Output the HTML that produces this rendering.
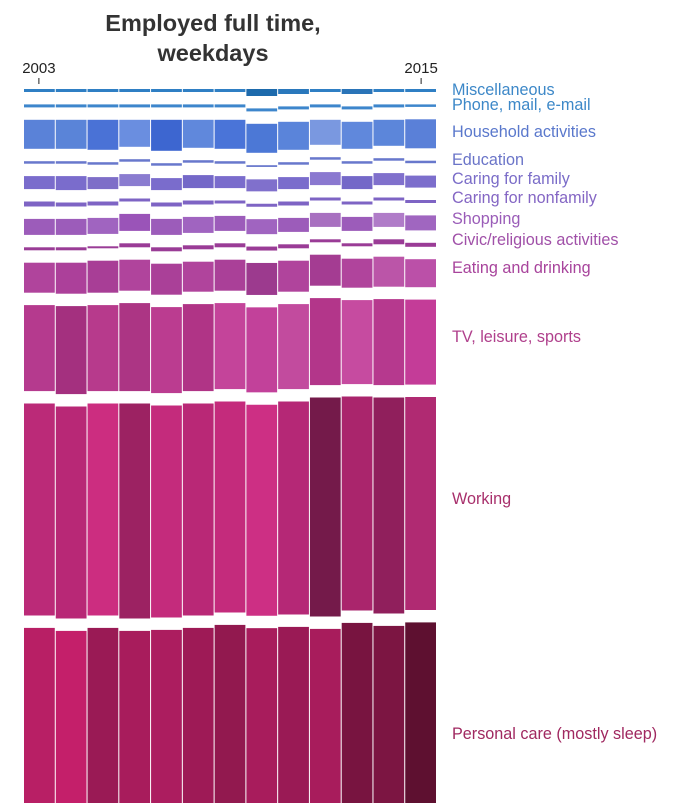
<!DOCTYPE html>
<html><head><meta charset="utf-8">
<style>
body{margin:0;background:#fff;width:676px;height:803px;overflow:hidden;font-family:"Liberation Sans",sans-serif;}
#wrap{position:relative;width:676px;height:803px;overflow:hidden;}
svg{position:absolute;left:0;top:0;overflow:hidden;}
</style></head>
<body>
<div id="wrap">
<svg id="chart" width="676" height="803">
<text x="213" y="31" text-anchor="middle" font-size="23.5" font-weight="bold" fill="#333">Employed full time,</text>
<text x="213" y="61" text-anchor="middle" font-size="23.5" font-weight="bold" fill="#333">weekdays</text>
<g id="bars"></g>
<g id="labels"></g>
<g id="axis"></g>
</svg>
</div>
<script>
const years = [2003,2004,2005,2006,2007,2008,2009,2010,2011,2012,2013,2014,2015];
const tickYears = [2003,2015];
const categories = ["Miscellaneous","Phone, mail, e-mail","Household activities","Education","Caring for family","Caring for nonfamily","Shopping","Civic/religious activities","Eating and drinking","TV, leisure, sports","Working","Personal care (mostly sleep)"];
// hours per weekday, by category, per year
const miscHours = [0.12,0.12,0.12,0.12,0.12,0.12,0.12,0.28,0.2,0.12,0.2,0.12,0.12];
const phoneHours = [0.12,0.12,0.12,0.12,0.12,0.12,0.12,0.12,0.12,0.12,0.12,0.12,0.1];
const householdHours = [1.16,1.16,1.2,1.08,1.24,1.12,1.16,1.16,1.12,1.0,1.08,1.04,1.16];
const educationHours = [0.1,0.1,0.1,0.1,0.1,0.1,0.1,0.07,0.1,0.1,0.1,0.1,0.1];
const caringFamilyHours = [0.52,0.56,0.48,0.48,0.48,0.52,0.48,0.48,0.48,0.52,0.52,0.48,0.48];
const caringNonfamilyHours = [0.2,0.16,0.16,0.12,0.16,0.16,0.12,0.12,0.16,0.12,0.12,0.12,0.12];
const shoppingHours = [0.64,0.64,0.64,0.68,0.64,0.64,0.6,0.6,0.56,0.56,0.56,0.56,0.6];
const civicHours = [0.12,0.12,0.08,0.16,0.16,0.16,0.16,0.16,0.16,0.12,0.12,0.2,0.16];
const eatingHours = [1.2,1.24,1.28,1.24,1.24,1.2,1.24,1.28,1.24,1.24,1.16,1.2,1.12];
const tvHours = [3.44,3.52,3.44,3.52,3.44,3.48,3.44,3.4,3.4,3.48,3.36,3.44,3.4];
const workingHours = [8.48,8.48,8.48,8.6,8.48,8.48,8.44,8.44,8.52,8.76,8.56,8.64,8.52];
const personalCareHours = [8.9,8.85,8.9,8.8,8.85,8.9,9.0,8.9,8.95,8.8,8.9,8.9,9.0];
const seriesHours = [miscHours,phoneHours,householdHours,educationHours,caringFamilyHours,caringNonfamilyHours,shoppingHours,civicHours,eatingHours,tvHours,workingHours,personalCareHours];

const cellColors = [
 ["#2f7fc4","#2f7fc4","#2f7fc4","#2f7fc4","#2f7fc4","#2f7fc4","#2f7fc4","#1d6aac","#2a78bc","#2f7fc4","#2a74b8","#2f7fc4","#2f7fc4"],
 Array(13).fill("#3d86cc"),
 ["#5a82d8","#5a84d8","#4a72d6","#6a8ee0","#3d66d0","#6088dc","#4a74d8","#4c78d6","#5a84da","#7a98e0","#6088dc","#5c86da","#5a80d8"],
 Array(13).fill("#6878cc"),
 ["#7a6ccc","#7a6ccc","#7e6ec8","#8a7cd0","#7a6ccc","#7468c8","#7a6ccc","#8070cc","#7a6ccc","#8a78d0","#7468c8","#8070cc","#7c6ecc"],
 Array(13).fill("#7e64c4"),
 ["#9c5cba","#9c5cba","#a064c0","#9a54b8","#9c5cba","#a064c0","#9c5cba","#a064c0","#9c5cba","#a870c0","#9c5cba","#b07cc8","#a066c0"],
 Array(13).fill("#9a3c96"),
 ["#b0449c","#ac409a","#a83e96","#b0449c","#aa4098","#b0449c","#aa4098","#9c3a8e","#b0449c","#a43c92","#b0449c","#bb55a8","#bb50a8"],
 ["#b53a8e","#a4307f","#b73a8c","#ac3584","#bb3c90","#b03486","#c4449a","#c2419a","#c24b9e","#b3368a","#c64ba0","#b6398e","#c43c98"],
 ["#bb2a78","#b82876","#cc2d80","#9c2262","#c42b7c","#b92876","#c42b7c","#cd2f84","#b52876","#741a4a","#aa256c","#901f5c","#b02a72"],
 ["#b81f65","#c41f6a","#9a1a55","#a81c5c","#ac1d5f","#9e1a56","#92194f","#a81c5c","#9a1a55","#a81c5c","#781440","#7c1542","#5e1030"]
];
const labelColors = ["#3d88c8","#3d88c8","#5a78cc","#6a74c8","#7a6cc8","#8466c4","#9a5cb8","#a050a8","#a8449c","#b0408c","#a8306c","#a02860"];
const labelY = [90,105,132,160,179,198,219,240,268,337,499,734];

const NS="http://www.w3.org/2000/svg";
const X0=24, X1=437, TOP=89, PX_PER_HOUR=25, GAP=12.4, BOTTOM=803;
const colW=(X1-X0)/years.length;
function xScale(i){return X0+i*colW;}
function hScale(h){return h*PX_PER_HOUR;}

const barsG=document.getElementById('bars');
years.forEach((yr,i)=>{
  let y=TOP;
  seriesHours.forEach((ser,c)=>{
    const full=hScale(ser[i]);
    const h=Math.max(0,Math.min(full,BOTTOM-y));
    const r=document.createElementNS(NS,'rect');
    r.setAttribute('x',xScale(i));
    r.setAttribute('y',y);
    r.setAttribute('width',colW-1);
    r.setAttribute('height',h);
    r.setAttribute('fill',cellColors[c][i]);
    
    
    barsG.appendChild(r);
    y+=full+GAP;
  });
});

const labG=document.getElementById('labels');
categories.forEach((cat,c)=>{
  const t=document.createElementNS(NS,'text');
  t.setAttribute('x',452);
  t.setAttribute('y',labelY[c]+5);
  t.setAttribute('font-size','16.2');
  t.setAttribute('fill',labelColors[c]);
  t.textContent=cat;
  
  
  labG.appendChild(t);
});

const axG=document.getElementById('axis');
tickYears.forEach(yr=>{
  const i=years.indexOf(yr);
  const cx=xScale(i)+colW/2 + (i===0?-1:0);
  const t=document.createElementNS(NS,'text');
  t.setAttribute('x',cx);
  t.setAttribute('y',73);
  t.setAttribute('text-anchor','middle');
  t.setAttribute('font-size','15');
  t.setAttribute('fill','#222');
  t.textContent=yr;
  
  
  axG.appendChild(t);
  const l=document.createElementNS(NS,'line');
  l.setAttribute('x1',cx);l.setAttribute('x2',cx);
  l.setAttribute('y1',78);l.setAttribute('y2',84);
  l.setAttribute('stroke','#222');l.setAttribute('stroke-width','1');
  
  
  axG.appendChild(l);
});
</script>
</body></html>
